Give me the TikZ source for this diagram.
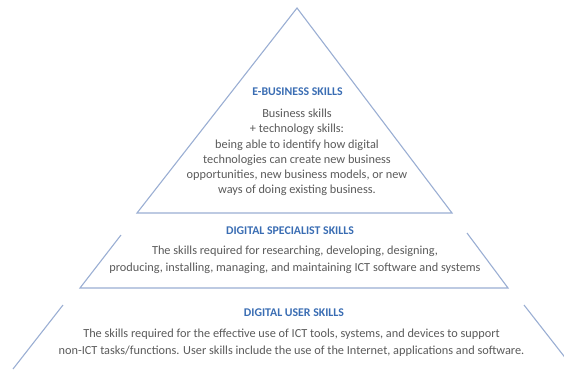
\documentclass[tikz,border=0pt]{standalone}
\usepackage{fontspec}
\setmainfont{Carlito}
\definecolor{edgeblue}{HTML}{9AAED3}
\definecolor{headblue}{HTML}{3A6DB3}
\definecolor{bodygray}{HTML}{5A5A5A}
\begin{document}
\begin{tikzpicture}[x=1pt,y=-1pt,
  tier/.style={draw=edgeblue,line width=1.1pt,line join=miter},
  heading/.style={text=headblue,font=\fontsize{11.8}{13}\selectfont\bfseries,inner sep=0pt},
  body/.style={text=bodygray,font=\fontsize{12.3}{17}\selectfont,align=center,inner sep=0pt},
  tightbody/.style={body,font=\fontsize{12.3}{15.2}\selectfont}]
  \useasboundingbox (0,0) rectangle (564,369);
  \clip (0,0) rectangle (564,369);
  % top tier: full triangle
  \coordinate (apex) at (297,8);
  \coordinate (tl) at (137,213);
  \coordinate (tr) at (452,213);
  \draw[tier] (apex) -- (tl) -- (tr) -- cycle;
  % middle tier: open trapezoid
  \coordinate (ml1) at (121,235);
  \coordinate (ml2) at (80,288);
  \coordinate (mr1) at (467,233);
  \coordinate (mr2) at (508,288);
  \draw[tier] (ml1) -- (ml2) -- (mr2) -- (mr1);
  % bottom tier: two slanted sides
  \coordinate (bl1) at (63,305);
  \coordinate (bl2) at (13,369);
  \coordinate (br1) at (524,305);
  \coordinate (br2) at (574,369);
  \draw[tier] (bl1) -- (bl2);
  \draw[tier] (br1) -- (br2);
  % labels
  \node[heading] (ebiz) at (297.5,92) {E-BUSINESS SKILLS};
  \node[tightbody] (ebiztext) at (297,152.5) {Business skills\\+ technology skills:\\being able to identify how digital\\technologies can create new business\\opportunities, new business models, or new\\ways of doing existing business.};
  \node[heading] (spec) at (290,231) {DIGITAL SPECIALIST SKILLS};
  \node[body] (spectext) at (295,259.5) {The skills required for researching, developing, designing,\\producing, installing, managing, and maintaining ICT software and systems};
  \node[heading] (user) at (294,313) {DIGITAL USER SKILLS};
  \node[body] (usertext) at (291.5,343) {The skills required for the effective use of ICT tools, systems, and devices to support\\non-ICT tasks/functions. User skills include the use of the Internet, applications and software.};
\end{tikzpicture}
\end{document}
